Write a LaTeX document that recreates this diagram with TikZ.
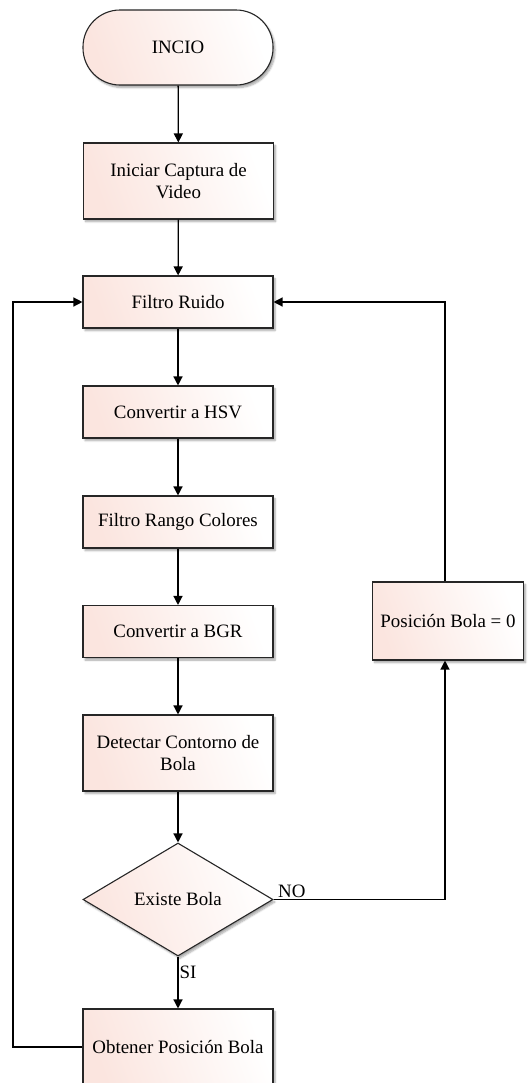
\documentclass[tikz,border=0pt]{standalone}
\usepackage{fontspec}
\setmainfont{Liberation Serif}
\usetikzlibrary{shapes.geometric,arrows.meta,shadows.blur}
\definecolor{blush}{RGB}{251,229,223}
\tikzset{
  flowbase/.style={draw=black!85, line width=1.1bp,
    left color=blush, middle color=blush!20!white, right color=white, shading angle=110,
    blur shadow={shadow xshift=2bp, shadow yshift=-2.5bp, shadow blur steps=6, shadow opacity=35},
    font=\fontsize{18.9bp}{22.5bp}\selectfont, align=center, inner sep=2bp},
  procbox/.style={flowbase, rectangle, minimum width=190bp, minimum height=52bp},
  tallbox/.style={procbox, minimum height=76bp},
  termbox/.style={flowbase, rectangle, rounded corners=37bp, minimum width=190bp, minimum height=75bp},
  decbox/.style={flowbase, diamond, aspect=1.68, minimum width=190bp, minimum height=113bp, inner sep=0pt},
  flow/.style={draw=black, line width=1.3bp, -{Triangle[length=9bp,width=9bp]}},
  tag/.style={font=\fontsize{18.9bp}{22bp}\selectfont, inner sep=1bp}
}
\begin{document}
\begin{tikzpicture}[x=1bp,y=-1bp]
\useasboundingbox (0,0) rectangle (531,1083);

% main column
\node[termbox] (start)   at (178,47.5)  {INCIO};
\node[tallbox] (capture) at (178.5,181) {Iniciar Captura de\\Video};
\node[procbox] (noise)   at (178,302)   {Filtro Ruido};
\node[procbox] (hsv)     at (178,412)   {Convertir a HSV};
\node[procbox] (range)   at (178,522)   {Filtro Rango Colores};
\node[procbox] (bgr)     at (178,631.5) {Convertir a BGR};
\node[tallbox] (contour) at (178,753)   {Detectar Contorno de\\Bola};
\node[decbox]  (exists)  at (178,899.5) {Existe Bola};
\node[tallbox] (getpos)  at (178,1047)  {Obtener Posición Bola};

% reset branch
\node[procbox, minimum width=151bp, minimum height=78bp] (reset) at (448,621) {Posición Bola = 0};
\coordinate (resetin) at (445,0);

% rail for the loop back on the left
\coordinate (rail) at (13,0);

\draw[flow] (start) -- (capture);
\draw[flow] (capture) -- (noise);
\draw[flow] (noise) -- (hsv);
\draw[flow] (hsv) -- (range);
\draw[flow] (range) -- (bgr);
\draw[flow] (bgr) -- (contour);
\draw[flow] (contour) -- (exists);
\draw[flow] (exists) -- node[tag, right, pos=0.3] {SI} (getpos);
\draw[flow] (exists.east) -- node[tag, above right, pos=0, xshift=3bp] {NO} (exists.east -| resetin) -- (reset.south -| resetin);
\draw[flow] (reset.north -| resetin) |- (noise.east);
\draw[flow] (getpos.west) -- (getpos.west -| rail) |- (noise.west);
\end{tikzpicture}
\end{document}
